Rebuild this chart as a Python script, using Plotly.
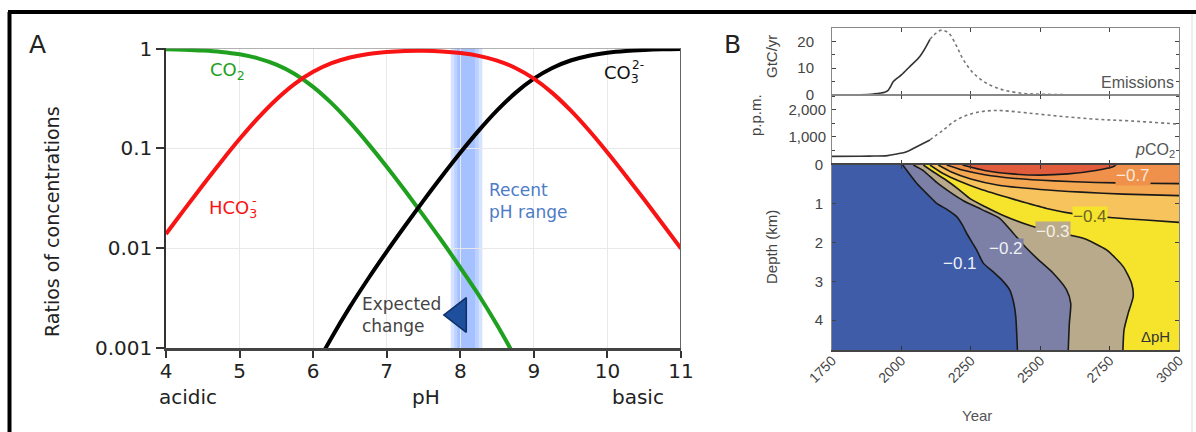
import plotly.graph_objects as go

W, H = 1196, 432
def px(v): return v / W
def py(v): return 1 - v / H

# ---------------- Panel A data ----------------
PH = [4.0, 4.25, 4.5, 4.75, 5.0, 5.25, 5.5, 5.75, 6.0, 6.25, 6.5, 6.75, 7.0, 7.25,
      7.5, 7.75, 8.0, 8.25, 8.5, 8.75, 9.0, 9.25, 9.5, 9.75, 10.0, 10.25, 10.5, 10.75, 11.0]
CO2 = [0.986, 0.976, 0.957, 0.926, 0.876, 0.799, 0.691, 0.557, 0.414, 0.284, 0.182, 0.111,
       0.0655, 0.0376, 0.0212, 0.0118, 0.0064, 0.0034, 0.0017, 0.0008,
       None, None, None, None, None, None, None, None, None]
HCO3 = [0.0139, 0.0245, 0.0428, 0.0736, 0.124, 0.201, 0.309, 0.443, 0.585, 0.714, 0.815, 0.884,
        0.925, 0.946, 0.949, 0.936, 0.903, 0.846, 0.759, 0.640, 0.500, 0.360, 0.240, 0.151,
        0.0909, 0.0532, 0.0307, 0.0175, 0.0099]
CO3 = [None, None, None, None, None, None, None, None, 0.00059, 0.00127, 0.00258, 0.00497,
       0.00925, 0.0168, 0.0300, 0.0526, 0.0904, 0.1505, 0.240, 0.360, 0.500, 0.640, 0.760,
       0.849, 0.909, 0.947, 0.969, 0.983, 0.990]
X_TICKS = [4, 5, 6, 7, 8, 9, 10, 11]
Y_TICKS = [1, 0.1, 0.01, 0.001]
Y_TICK_TEXT = ["1", "0.1", "0.01", "0.001"]
LOG_RANGE = [-3, 0.006]
RATIO_RANGE = [0.001, 1.014]
EXPECTED_PH = [7.98]
EXPECTED_RATIO = [0.00214]
BAND_LAYERS = [(7.87, 8.30), (7.92, 8.25), (7.96, 8.20)]

# ---------------- Panel B data ----------------
EMIS_HIST_YEAR = [1850, 1900, 1940, 1950, 1960, 1971, 1985, 2000, 2031, 2067, 2103]
EMIS_HIST_VAL = [0.1, 0.4, 1.0, 1.5, 3.0, 5.0, 6.3, 7.5, 10.7, 14.5, 20.8]
EMIS_FUT_YEAR = [2103, 2127, 2145, 2160, 2175, 2199, 2223, 2259, 2307, 2367, 2439, 2499, 2600]
EMIS_FUT_VAL = [20.8, 23.3, 24.2, 23.8, 22.6, 18.2, 13.2, 8.2, 4.4, 1.9, 0.6, 0.3, 0.1]

PCO2_HIST_YEAR = [1750, 1850, 1900, 1950, 1983, 2019, 2055, 2103]
PCO2_HIST_VAL = [280, 285, 295, 310, 370, 456, 640, 889]
PCO2_FUT_YEAR = [2103, 2151, 2199, 2247, 2290, 2330, 2367, 2463, 2583, 2703, 2823, 3000]
PCO2_FUT_VAL = [889, 1259, 1630, 1840, 1940, 1975, 1970, 1877, 1753, 1654, 1593, 1475]

YEAR_RANGE = [1750, 3000]
DEPTH_RANGE = [4.77, 0]
YEAR_TICKS = [1750, 2000, 2250, 2500, 2750, 3000]

# Delta pH contour lines (year, depth km)
L1_YEAR = [2005, 2055, 2100, 2127, 2165, 2199, 2220, 2235, 2255, 2271, 2295, 2330, 2360, 2390, 2405, 2412, 2418]
L1_DEPTH = [0, 0.47, 0.80, 0.99, 1.15, 1.33, 1.55, 1.76, 2.0, 2.19, 2.53, 2.75, 2.95, 3.22, 3.57, 3.91, 4.77]
L2_YEAR = [2043, 2080, 2127, 2175, 2223, 2290, 2355, 2403, 2445, 2493, 2547, 2595, 2610, 2605, 2601]
L2_DEPTH = [0, 0.15, 0.45, 0.70, 0.92, 1.15, 1.38, 1.76, 2.10, 2.44, 2.79, 3.22, 3.57, 4.08, 4.77]
L3_YEAR = [2079, 2120, 2163, 2205, 2250, 2300, 2367, 2463, 2547, 2655, 2739, 2799, 2829, 2835, 2817, 2802, 2798]
L3_DEPTH = [0, 0.20, 0.40, 0.62, 0.88, 1.07, 1.30, 1.56, 1.72, 1.89, 2.19, 2.62, 3.05, 3.39, 3.82, 4.25, 4.77]
L4_YEAR = [2103, 2150, 2210, 2283, 2403, 2523, 2640, 2763, 2880, 3000]
L4_DEPTH = [0, 0.22, 0.42, 0.62, 0.88, 1.12, 1.28, 1.36, 1.42, 1.48]
L5_YEAR = [2133, 2180, 2250, 2350, 2500, 2650, 2800, 3000]
L5_DEPTH = [0, 0.18, 0.36, 0.52, 0.63, 0.70, 0.75, 0.79]
L6_YEAR = [2163, 2220, 2300, 2400, 2550, 2700, 2850, 3000]
L6_DEPTH = [0, 0.13, 0.25, 0.34, 0.41, 0.45, 0.47, 0.48]
L7_YEAR = [2220, 2300, 2400, 2500, 2600, 2700, 2760, 2775]
L7_DEPTH = [0, 0.14, 0.23, 0.26, 0.23, 0.14, 0.05, 0]

BAND_COLORS = ["#3f5ca8", "#7c80a6", "#b8aa8a", "#f6e32c", "#f7c35c", "#f4a852", "#ef914a", "#e15b3d"]
LEVEL_LABELS = ["−0.1", "−0.2", "−0.3", "−0.4", "−0.7"]
LABEL_YEAR = [2211, 2376, 2547, 2679, 2833]
LABEL_DEPTH = [2.53, 2.16, 1.72, 1.33, 0.26]
LABEL_BG = [BAND_COLORS[0], BAND_COLORS[1], BAND_COLORS[2], BAND_COLORS[3], BAND_COLORS[6]]
LABEL_FG = ["#eef0f6", "#eef0f6", "#f4f0e6", "#6e6428", "#fbe8dc"]

fig = go.Figure()

FA = "DejaVu Sans"
FB = "Liberation Sans"

# ---- Panel A traces ----
fig.add_trace(go.Scatter(x=PH, y=CO2, mode="lines", line=dict(color="#1fa01f", width=4, shape="spline"),
                         xaxis="x", yaxis="y", showlegend=False))
fig.add_trace(go.Scatter(x=PH, y=CO3, mode="lines", line=dict(color="#000000", width=4, shape="spline"),
                         xaxis="x", yaxis="y", showlegend=False))
fig.add_trace(go.Scatter(x=PH, y=HCO3, mode="lines", line=dict(color="#f81414", width=4, shape="spline"),
                         xaxis="x", yaxis="y", showlegend=False))
fig.add_trace(go.Scatter(x=EXPECTED_PH, y=EXPECTED_RATIO, mode="markers",
                         marker=dict(symbol="triangle-left", size=30, color="#1d4f9c",
                                     line=dict(color="#0d2f6a", width=1.5)),
                         xaxis="x", yaxis="y", showlegend=False))

# ---- Panel B: emissions & pCO2 ----
fig.add_trace(go.Scatter(x=EMIS_HIST_YEAR, y=EMIS_HIST_VAL, mode="lines",
                         line=dict(color="#333", width=1.6, shape="spline"),
                         xaxis="x2", yaxis="y2", showlegend=False))
fig.add_trace(go.Scatter(x=EMIS_FUT_YEAR, y=EMIS_FUT_VAL, mode="lines",
                         line=dict(color="#777", width=1.6, dash="dot", shape="spline"),
                         xaxis="x2", yaxis="y2", showlegend=False))
fig.add_trace(go.Scatter(x=PCO2_HIST_YEAR, y=PCO2_HIST_VAL, mode="lines",
                         line=dict(color="#333", width=1.6, shape="spline"),
                         xaxis="x3", yaxis="y3", showlegend=False))
fig.add_trace(go.Scatter(x=PCO2_FUT_YEAR, y=PCO2_FUT_VAL, mode="lines",
                         line=dict(color="#777", width=1.6, dash="dot", shape="spline"),
                         xaxis="x3", yaxis="y3", showlegend=False))

# ---- Panel B: delta pH filled contours ----
bottom_lines = [(L1_YEAR, L1_DEPTH), (L2_YEAR, L2_DEPTH), (L3_YEAR, L3_DEPTH)]
right_lines = [(L4_YEAR, L4_DEPTH), (L5_YEAR, L5_DEPTH), (L6_YEAR, L6_DEPTH)]
for i, (xs, ys) in enumerate(bottom_lines):
    fig.add_trace(go.Scatter(x=xs + [YEAR_RANGE[1], YEAR_RANGE[1]], y=ys + [DEPTH_RANGE[0], DEPTH_RANGE[1]],
                             mode="lines", fill="toself", fillcolor=BAND_COLORS[i + 1],
                             line=dict(width=0, color=BAND_COLORS[i + 1]),
                             xaxis="x4", yaxis="y4", showlegend=False, hoverinfo="skip"))
for i, (xs, ys) in enumerate(right_lines):
    fig.add_trace(go.Scatter(x=xs + [YEAR_RANGE[1]], y=ys + [DEPTH_RANGE[1]],
                             mode="lines", fill="toself", fillcolor=BAND_COLORS[i + 4],
                             line=dict(width=0, color=BAND_COLORS[i + 4]),
                             xaxis="x4", yaxis="y4", showlegend=False, hoverinfo="skip"))
fig.add_trace(go.Scatter(x=L7_YEAR, y=L7_DEPTH, mode="lines", fill="toself", fillcolor=BAND_COLORS[7],
                         line=dict(width=0, color=BAND_COLORS[7]),
                         xaxis="x4", yaxis="y4", showlegend=False, hoverinfo="skip"))
for xs, ys in bottom_lines + right_lines + [(L7_YEAR, L7_DEPTH)]:
    fig.add_trace(go.Scatter(x=xs, y=ys, mode="lines",
                             line=dict(color="#1a1a1a", width=1.6, shape="spline", smoothing=0.6),
                             xaxis="x4", yaxis="y4", showlegend=False, hoverinfo="skip"))

# ---- shapes ----
shapes = []
# outer frame
shapes.append(dict(type="line", xref="paper", yref="paper", x0=px(8), x1=1.0, y0=py(12), y1=py(12),
                   line=dict(color="black", width=4)))
shapes.append(dict(type="line", xref="paper", yref="paper", x0=px(9.5), x1=px(9.5), y0=0, y1=py(12),
                   line=dict(color="black", width=4)))
shapes.append(dict(type="line", xref="paper", yref="paper", x0=px(1192), x1=px(1192), y0=0, y1=py(14),
                   line=dict(color="#dddddd", width=1)))
# recent pH band (gradient by layers)
band_fill = ["rgba(180,204,255,0.55)", "rgba(155,186,255,0.45)", "rgba(140,174,255,0.45)"]
for (a, b), c in zip(BAND_LAYERS, band_fill):
    shapes.append(dict(type="rect", xref="x", yref="y", x0=a, x1=b, y0=RATIO_RANGE[0], y1=RATIO_RANGE[1],
                       fillcolor=c, line=dict(width=0), layer="below"))
# panel A top & right frame
shapes.append(dict(type="line", xref="x", yref="y", x0=X_TICKS[0], x1=X_TICKS[-1],
                   y0=RATIO_RANGE[1], y1=RATIO_RANGE[1], line=dict(color="#999", width=1.5)))
shapes.append(dict(type="line", xref="x", yref="y", x0=X_TICKS[-1], x1=X_TICKS[-1],
                   y0=RATIO_RANGE[0], y1=RATIO_RANGE[1], line=dict(color="#666", width=2)))
# contour background (0 to -0.1)
shapes.append(dict(type="rect", xref="x4", yref="y4", x0=YEAR_RANGE[0], x1=YEAR_RANGE[1],
                   y0=DEPTH_RANGE[0], y1=DEPTH_RANGE[1],
                   fillcolor=BAND_COLORS[0], line=dict(width=0), layer="below"))

# ---- annotations ----
ann = []
def pa(text, x, y, size, color, family, **kw):
    d = dict(text=text, x=px(x), y=py(y), xref="paper", yref="paper", showarrow=False,
             xanchor="center", yanchor="middle", font=dict(family=family, size=size, color=color))
    d.update(kw)
    ann.append(d)

pa("A", 37, 45, 25, "#222", FA)
pa("B", 732, 45, 25, "#222", FA)
pa("Ratios of concentrations", 52, 222, 19, "#222", FA, textangle=-90)
pa("acidic", 188, 397, 20, "#222", FA)
pa("pH", 426, 397, 20, "#222", FA)
pa("basic", 638, 397, 20, "#222", FA)

def da(text, x, y, size, color, xanchor="left", **kw):
    d = dict(text=text, x=x, y=y, xref="x", yref="y", xanchor=xanchor, yanchor="middle",
             showarrow=False, font=dict(family=FA, size=size, color=color))
    d.update(kw)
    ann.append(d)

da("CO<sub>2</sub>", 4.57, -0.22, 18, "#1fa01f")
da("HCO<sub>3</sub>", 4.56, -1.61, 18, "#f81414")
da("-", 5.14, -1.52, 13, "#f81414")
da("CO<sub>3</sub>", 9.93, -0.25, 18, "#111")
da("2-", 10.31, -0.16, 12, "#111")
da("Recent<br>pH range", 8.36, -1.53, 17, "#4d7cc7", align="left")
da("Expected<br>change", 7.77, -2.67, 17, "#444", xanchor="right", align="left")

pa("GtC/yr", 772, 57, 15, "#444", FB, textangle=-90)
pa("p.p.m.", 755, 115, 15, "#444", FB, textangle=-90)
pa("Depth (km)", 771, 247, 15, "#444", FB, textangle=-90)
pa("Year", 977, 415, 15, "#555", FB)
pa("Emissions", 1137, 82, 16, "#555", FB)
pa("<i>p</i>CO<sub>2</sub>", 1155, 150, 16, "#555", FB)

for t, xx, yy, bg, fg in zip(LEVEL_LABELS, LABEL_YEAR, LABEL_DEPTH, LABEL_BG, LABEL_FG):
    ann.append(dict(text=t, x=xx, y=yy, xref="x4", yref="y4", showarrow=False, bgcolor=bg,
                    xanchor="center", yanchor="middle",
                    borderpad=0, font=dict(family=FB, size=17, color=fg)))
ann.append(dict(text="ΔpH", x=2914, y=4.42, xref="x4", yref="y4", showarrow=False,
                xanchor="center", yanchor="middle",
                font=dict(family=FB, size=15, color="#333")))

tickB = dict(family=FB, size=15, color="#444")
frameB = dict(showline=True, linecolor="#888", linewidth=1, mirror="ticks", ticks="inside",
              ticklen=4, tickcolor="#444", showgrid=False, zeroline=False, automargin=False)

fig.update_layout(
    width=W, height=H, margin=dict(l=0, r=0, t=0, b=0, autoexpand=False),
    paper_bgcolor="white", plot_bgcolor="white", showlegend=False,
    shapes=shapes, annotations=ann,
    xaxis=dict(domain=[px(166), px(681)], anchor="y", range=[4, 11], tickvals=X_TICKS,
               showline=True, linecolor="#444", linewidth=3, ticks="outside", ticklen=7,
               tickwidth=2, tickcolor="#333", showgrid=True, gridcolor="#e8e8e8", zeroline=False,
               automargin=False, ticklabelstandoff=-4, tickfont=dict(family=FA, size=20, color="#222")),
    yaxis=dict(domain=[py(348), py(48)], anchor="x", type="log", range=LOG_RANGE,
               tickvals=Y_TICKS, ticktext=Y_TICK_TEXT, showline=True, linecolor="#333",
               linewidth=1.5, ticks="outside", ticklen=8, tickwidth=2, tickcolor="#333",
               showgrid=True, gridcolor="#e8e8e8", zeroline=False, automargin=False,
               tickfont=dict(family=FA, size=20, color="#222")),
    xaxis2=dict(domain=[px(832), px(1179)], anchor="y2", range=YEAR_RANGE, tickvals=YEAR_TICKS,
                showticklabels=False, **frameB),
    yaxis2=dict(domain=[py(95), py(28)], anchor="x2", range=[0, 25], tickvals=[0, 10, 20],
                minor=dict(dtick=5, ticks="inside", ticklen=3, tickcolor="#444"),
                tickfont=tickB, ticklabelstandoff=14, **frameB),
    xaxis3=dict(domain=[px(832), px(1179)], anchor="y3", range=YEAR_RANGE, tickvals=YEAR_TICKS,
                showticklabels=False, **frameB),
    yaxis3=dict(domain=[py(164), py(95)], anchor="x3", range=[0, 2550], tickvals=[0, 1000, 2000],
                ticktext=["", "1,000", "2,000"],
                minor=dict(dtick=500, ticks="inside", ticklen=3, tickcolor="#444"),
                tickfont=tickB, ticklabelstandoff=2, **frameB),
    xaxis4=dict(domain=[px(832), px(1179)], anchor="y4", range=YEAR_RANGE, tickvals=YEAR_TICKS,
                tickangle=-45, tickfont=dict(family=FB, size=14, color="#444"), ticklabelstandoff=-5,
                showline=True, linecolor="#444", linewidth=2, mirror="ticks", ticks="inside",
                ticklen=4, tickcolor="#333", showgrid=False, zeroline=False, automargin=False),
    yaxis4=dict(domain=[py(350), py(165)], anchor="x4", range=DEPTH_RANGE, tickvals=[0, 1, 2, 3, 4],
                tickfont=tickB, ticklabelstandoff=5, **frameB),
)

fig.write_html("out.html", config={"displayModeBar": False},
               post_script="document.body.style.margin='0px';")
